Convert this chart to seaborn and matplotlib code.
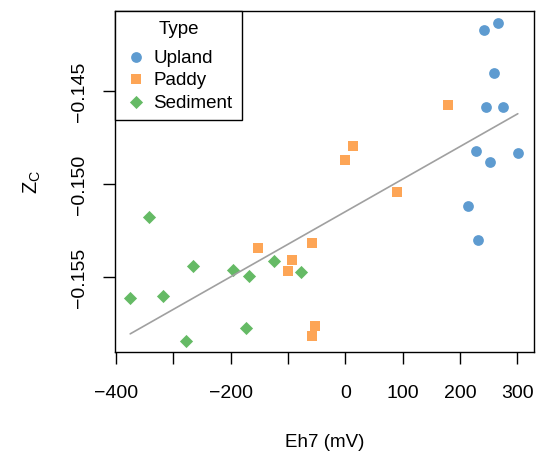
import matplotlib
matplotlib.use("Agg")
import matplotlib.pyplot as plt
import pandas as pd
import seaborn as sns
from matplotlib.ticker import FuncFormatter

# values
upland_eh = [241.9, 265.8, 259.9, 245.9, 274.6, 228.0, 252.4, 300.7, 213.5, 230.9]
upland_zc = [-0.14172, -0.14135, -0.14401, -0.14586, -0.14584, -0.14824, -0.14880, -0.14833, -0.15118, -0.15300]
paddy_eh = [179.7, 13.4, 0.0, 89.6, -152.3, -58.6, -93.5, -100.0, -52.9, -58.6]
paddy_zc = [-0.14573, -0.14794, -0.14871, -0.15041, -0.15344, -0.15319, -0.15409, -0.15466, -0.15764, -0.15816]
sediment_eh = [-343.0, -265.6, -196.4, -168.5, -124.4, -77.3, -375.5, -318.5, -173.7, -277.9]
sediment_zc = [-0.15178, -0.15440, -0.15464, -0.15493, -0.15414, -0.15473, -0.15613, -0.15603, -0.15773, -0.15843]

types = ["Upland", "Paddy", "Sediment"]
colors = {"Upland": "#5596CE", "Paddy": "#FDA04D", "Sediment": "#5DB75D"}
markers = {"Upland": "o", "Paddy": "s", "Sediment": "D"}
sizes = {"Upland": 60, "Paddy": 50, "Sediment": 45}

x_ticks = [-400, -300, -200, -100, 0, 100, 200, 300]
x_labels = ["\u2212400", "", "\u2212200", "", "0", "100", "200", "300"]
y_ticks = [-0.155, -0.150, -0.145]

df = pd.concat([
    pd.DataFrame({"Eh7": upland_eh, "Zc": upland_zc, "Type": "Upland"}),
    pd.DataFrame({"Eh7": paddy_eh, "Zc": paddy_zc, "Type": "Paddy"}),
    pd.DataFrame({"Eh7": sediment_eh, "Zc": sediment_zc, "Type": "Sediment"}),
], ignore_index=True)

sns.set_style("ticks")
plt.rcParams["font.family"] = ["Liberation Sans", "DejaVu Sans"]
plt.rcParams["mathtext.fontset"] = "custom"
plt.rcParams["mathtext.rm"] = "Liberation Sans"
plt.rcParams["mathtext.it"] = "Liberation Sans"
plt.rcParams["text.color"] = "black"
plt.rcParams["axes.labelcolor"] = "black"
plt.rcParams["xtick.color"] = "black"
plt.rcParams["ytick.color"] = "black"

FS = 13.5

fig = plt.figure(figsize=(5.38, 4.56), dpi=100)
ax = fig.add_axes([0.2138, 0.2259, 0.7788, 0.7478])

sns.regplot(data=df, x="Eh7", y="Zc", scatter=False, ci=None, truncate=True,
            line_kws={"color": "#A0A0A0", "linewidth": 1.2}, ax=ax)

for t in types:
    sub = df[df["Type"] == t]
    sns.scatterplot(data=sub, x="Eh7", y="Zc", color=colors[t], marker=markers[t],
                    s=sizes[t], linewidth=0, alpha=0.95, label=t, ax=ax)

ax.set_xlim(-402, 329)
ax.set_ylim(-0.15903, -0.1407)
ax.set_xticks(x_ticks)
ax.set_xticklabels(x_labels)
ax.set_yticks(y_ticks)
ax.yaxis.set_major_formatter(FuncFormatter(lambda v, _: f"{v:.3f}".replace("-", "\u2212")))
ax.tick_params(axis="both", direction="out", length=8.5, width=1.0, color="black",
               labelcolor="black", labelsize=14)
ax.tick_params(axis="x", pad=14.5)
ax.tick_params(axis="y", pad=11)
plt.setp(ax.get_yticklabels(), rotation=90, va="center")

for s in ax.spines.values():
    s.set_visible(True)
    s.set_color("black")
    s.set_linewidth(1.0)

ax.set_xlabel("Eh7 (mV)", fontsize=FS, labelpad=23)
ax.set_ylabel(r"$Z_{\mathrm{C}}$", fontsize=FS + 1, labelpad=20)

leg = ax.legend(title="Type", loc="upper left", bbox_to_anchor=(0, 1), borderaxespad=0,
                fontsize=FS, title_fontsize=FS, frameon=True, fancybox=False,
                framealpha=1, edgecolor="black", handletextpad=0.35, labelspacing=0.3,
                handlelength=1.2, borderpad=0.5)
leg.get_frame().set_linewidth(1.0)
leg._legend_box.sep = 8  # wider gap under the title

fig.savefig("out.png", dpi=100)
